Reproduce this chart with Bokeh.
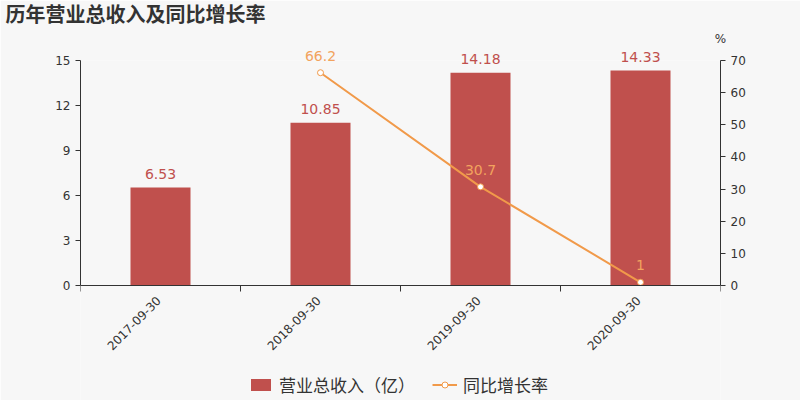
import numpy as np
from bokeh.plotting import figure
from bokeh.models import (ColumnDataSource, Range1d, LinearAxis, FixedTicker,
                          Legend, LegendItem, Span)
from bokeh.core.properties import value
from bokeh.embed import file_html
from bokeh.resources import INLINE

title_text = "历年营业总收入及同比增长率"
categories = ["2017-09-30", "2018-09-30", "2019-09-30", "2020-09-30"]
revenue = [6.53, 10.85, 14.18, 14.33]
revenue_labels = ["6.53", "10.85", "14.18", "14.33"]
growth = [float("nan"), 66.2, 30.7, 1.0]
growth_labels = ["", "66.2", "30.7", "1"]
left_ticks = [0, 3, 6, 9, 12, 15]
right_ticks = [0, 10, 20, 30, 40, 50, 60, 70]
legend_bar = "营业总收入（亿）"
legend_line = "同比增长率"
right_unit = "%"

BG = "#f7f7f7"
BAR = "#c0504d"
LINE = "#f19a4a"
LINE_TXT = "#f2a35e"
TXT = "#333333"
NUM_FONT = "DejaVu Sans"
CJK_FONT = "Noto Sans CJK SC"

# layout: value area 225px tall, plus 115px below the zero line inside the
# frame for the category labels and the legend
AXIS_H = 225
BELOW_H = 115
k = BELOW_H / AXIS_H

n = len(categories)
xs = list(np.arange(n) + 0.5)

p = figure(frame_width=640, frame_height=AXIS_H + BELOW_H,
           min_border_left=80, min_border_right=80,
           min_border_top=60, min_border_bottom=0,
           x_range=Range1d(0, n),
           y_range=Range1d(left_ticks[0] - k * (left_ticks[-1] - left_ticks[0]),
                           left_ticks[-1]),
           x_axis_location=None,
           output_backend="svg", toolbar_location=None,
           background_fill_color=BG, border_fill_color=BG,
           outline_line_color=None)
p.extra_y_ranges = {"pct": Range1d(
    right_ticks[0] - k * (right_ticks[-1] - right_ticks[0]), right_ticks[-1])}
p.xgrid.visible = False
p.ygrid.visible = False

ya = p.yaxis[0]
ya.ticker = FixedTicker(ticks=left_ticks)
ya.bounds = (left_ticks[0], left_ticks[-1])
ya.minor_tick_line_color = None
ya.major_tick_out = 5
ya.major_tick_in = 0
ya.axis_line_color = TXT
ya.major_tick_line_color = TXT
ya.major_label_text_font = NUM_FONT
ya.major_label_text_font_size = "12px"
ya.major_label_text_color = TXT

ya2 = LinearAxis(y_range_name="pct", ticker=FixedTicker(ticks=right_ticks),
                 bounds=(right_ticks[0], right_ticks[-1]))
ya2.minor_tick_line_color = None
ya2.major_tick_out = 5
ya2.major_tick_in = 0
ya2.axis_line_color = TXT
ya2.major_tick_line_color = TXT
ya2.major_label_text_font = NUM_FONT
ya2.major_label_text_font_size = "12px"
ya2.major_label_text_color = TXT
p.add_layout(ya2, "right")

src = ColumnDataSource(dict(x=xs, rev=revenue, rl=revenue_labels))
bars = p.vbar(x="x", top="rev", width=0.375, source=src,
              fill_color=BAR, line_color=None)

# category axis: base line, boundary ticks, rotated labels
p.add_layout(Span(location=left_ticks[0], dimension="width",
                  line_color=TXT, line_width=1))
p.ray(x=list(range(n + 1)), y=[left_ticks[0]] * (n + 1), length=6,
      length_units="screen", angle=-np.pi / 2, line_color=TXT, line_width=1)
p.text(x=xs, y=[left_ticks[0]] * n, text=categories, angle=np.pi / 4,
       x_offset=-2, y_offset=13, level="overlay",
       text_align="right", text_baseline="middle", text_color=TXT,
       text_font=value(NUM_FONT), text_font_size="12px")

p.text(x="x", y="rev", text="rl", source=src, y_offset=-9, level="overlay",
       text_align="center", text_baseline="bottom", text_color=BAR,
       text_font=value(NUM_FONT), text_font_size="14px")

gsrc = ColumnDataSource(dict(x=xs, g=growth, gl=growth_labels))
line = p.line(x="x", y="g", source=gsrc, y_range_name="pct",
              line_color=LINE, line_width=2)
marks = p.scatter(x="x", y="g", source=gsrc, y_range_name="pct", size=6,
                  fill_color="white", line_color=LINE, line_width=1)
p.text(x="x", y="g", text="gl", source=gsrc, y_range_name="pct", y_offset=-12,
       level="overlay", text_align="center", text_baseline="bottom",
       text_color=LINE_TXT, text_font=value(NUM_FONT), text_font_size="14px")

# title and unit (text glyphs on the overlay level are not clipped)
p.text(x=[0], y=[left_ticks[-1]], text=[title_text], x_offset=-75,
       y_offset=-47, level="overlay", text_align="left",
       text_baseline="middle", text_color=TXT, text_font=value(CJK_FONT),
       text_font_size="20px", text_font_style="bold")
p.text(x=[n], y=[right_ticks[-1]], text=[right_unit], y_range_name="pct",
       y_offset=-22, level="overlay", text_align="center",
       text_baseline="middle", text_color=TXT, text_font=value(NUM_FONT),
       text_font_size="12px")

legend = Legend(items=[LegendItem(label=legend_bar, renderers=[bars]),
                       LegendItem(label=legend_line, renderers=[line, marks])],
                orientation="horizontal", location=(168, 3),
                label_text_font=CJK_FONT, label_text_font_size="17px",
                label_text_color=TXT, glyph_width=25, glyph_height=15,
                label_standoff=6, background_fill_alpha=0,
                border_line_color=None, spacing=17, margin=0, padding=0)
p.add_layout(legend)

open("out.html", "w").write(file_html(p, INLINE))
